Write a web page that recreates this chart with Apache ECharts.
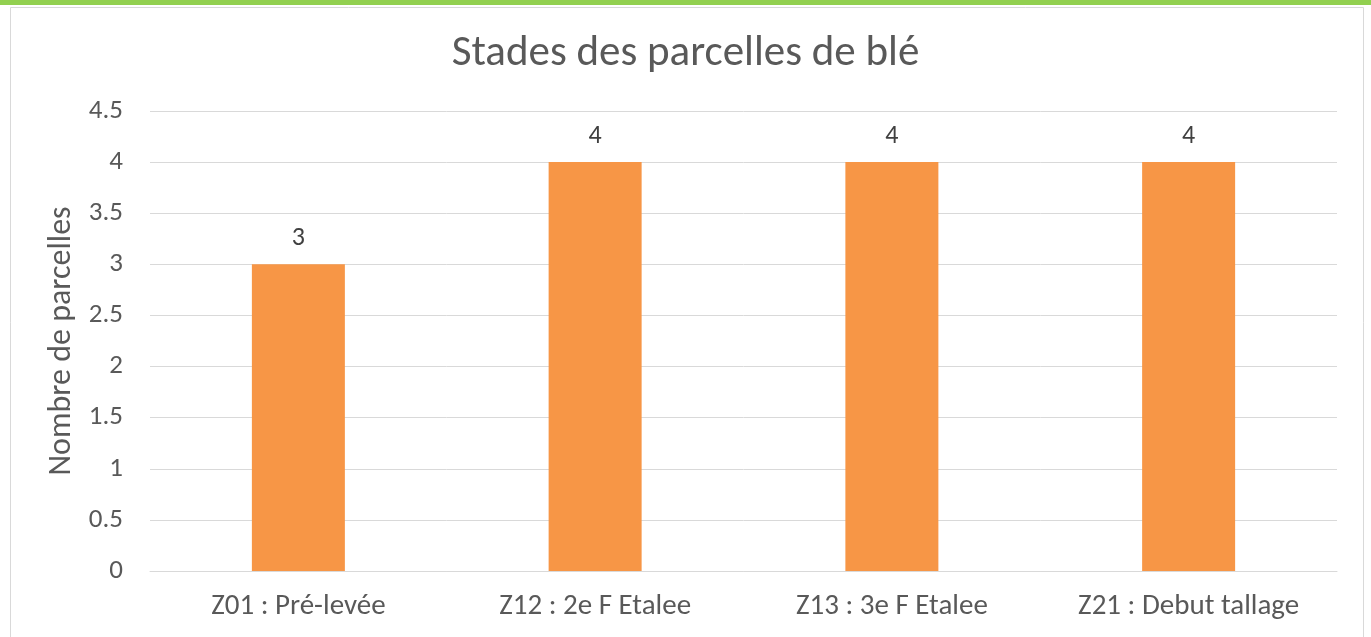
<!DOCTYPE html>
<html>
<head>
<meta charset="utf-8">
<script src="https://cdn.jsdelivr.net/npm/echarts@6/dist/echarts.min.js"></script>
<style>
  html, body { margin: 0; padding: 0; background: #fff; }
  #chart { width: 1371px; height: 637px; }
</style>
</head>
<body>
<div id="chart"></div>
<script>
// stades et nombre de parcelles
const categories = ['Z01 : Pré-levée', 'Z12 : 2e F Etalee', 'Z13 : 3e F Etalee', 'Z21 : Debut tallage']
const parcelCounts = [3, 4, 4, 4]
const yTicks = { min: 0, max: 4.5, interval: 0.5 }

const chart = echarts.init(document.getElementById('chart'))

const fontFamily = 'Calibri, Carlito, "Open Sans", "Noto Sans", sans-serif'

chart.setOption({
  animation: false,
  textStyle: { fontFamily: fontFamily },
  graphic: [
    // bandeau vert en haut
    { type: 'rect', left: 0, top: 0, shape: { width: 1371, height: 5 }, style: { fill: '#92D050' } },
    // cadre gris
    { type: 'rect', left: 8, top: 5, shape: { width: 1353, height: 640 }, style: { fill: 'none', stroke: '#d9d9d9', lineWidth: 1 } }
  ],
  title: {
    text: 'Stades des parcelles de blé',
    left: 'center',
    top: 28,
    textStyle: { fontFamily: fontFamily, fontSize: 43, fontWeight: 'normal', color: '#595959' }
  },
  grid: { left: 150, right: 34, top: 111, bottom: 66 },
  xAxis: {
    type: 'category',
    data: categories,
    axisLine: { lineStyle: { color: '#d9d9d9', width: 1 } },
    axisTick: { show: false },
    axisLabel: { color: '#595959', fontSize: 29, margin: 21, fontFamily: fontFamily }
  },
  yAxis: {
    type: 'value',
    min: yTicks.min,
    max: yTicks.max,
    interval: yTicks.interval,
    name: 'Nombre de parcelles',
    nameLocation: 'middle',
    nameGap: 68,
    nameTextStyle: { color: '#595959', fontSize: 32, fontFamily: fontFamily },
    axisLine: { show: false },
    axisTick: { show: false },
    axisLabel: { color: '#595959', fontSize: 27, margin: 27, fontFamily: fontFamily },
    splitLine: { lineStyle: { color: '#d9d9d9', width: 1 } }
  },
  series: [{
    type: 'bar',
    data: parcelCounts,
    barWidth: 93,
    itemStyle: { color: '#F79646' },
    label: {
      show: true,
      position: 'top',
      distance: 13,
      color: '#404040',
      fontSize: 26,
      fontFamily: fontFamily
    }
  }]
})
</script>
</body>
</html>
